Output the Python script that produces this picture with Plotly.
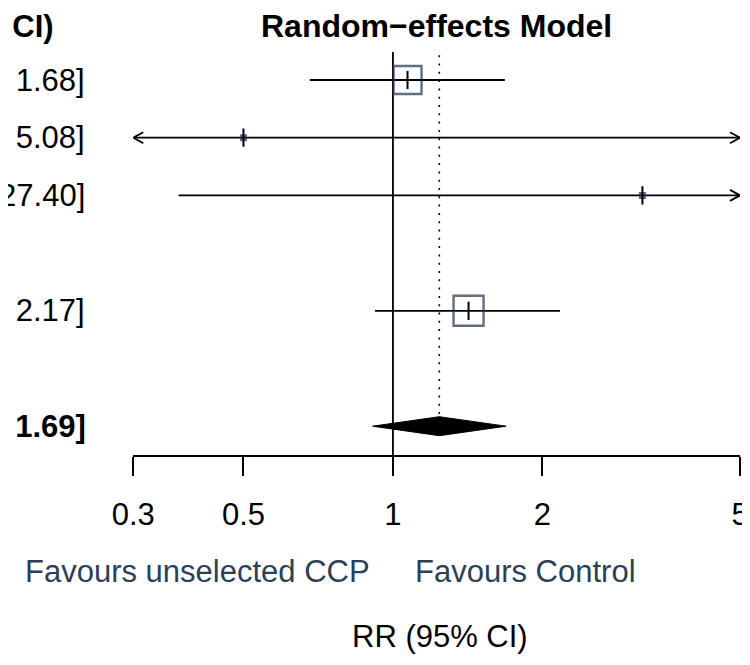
import math
import plotly.graph_objects as go

# ---- data ----
study_rows = [1, 2, 3, 5]
study_rr = [1.07, 0.50, 3.18, 1.42]
study_lower = [0.68, 0.05, 0.37, 0.92]
study_upper = [1.68, 5.08, 27.40, 2.17]
study_weight_size = [28, 7, 7, 30]
study_text = ["1.07 [0.68;\u00a0\u00a01.68]", "0.50 [0.05;\u00a0\u00a05.08]",
              "3.18 [0.37;\u00a027.40]", "1.42 [0.92;\u00a0\u00a02.17]"]

summary_row = 7
summary_rr = 1.24
summary_lower = 0.91
summary_upper = 1.69
summary_text = "1.24 [0.91;\u00a0\u00a01.69]"

tick_vals = [0.3, 0.5, 1, 2, 5]
tick_text = ["0.3", "0.5", "1", "2", "5"]
x_min, x_max = 0.3, 5

W, H = 750, 665
OFF = 8  # page body margin offset
FONT = "Liberation Sans, Arial, Helvetica, sans-serif"
SLATE = "#2B3F56"
SQ_EDGE = "#1E3148"
FS = 31

# pixel geometry helpers (paper coords), corrected for page offset
def px(x):
    return (x - OFF) / W

def py(y):
    return 1 - (y - OFF) / H

axis_y_px = 455 - OFF
x_dom = [(133.3 - OFF) / W, (740.0 - OFF) / W]
row1_px = 80 - OFF
row_step = 57.7
y_top = 1 - row1_px / row_step
y_bot = 1 + (axis_y_px - row1_px) / row_step
y_range = [y_bot, y_top]

fig = go.Figure()

# CI lines (clipped to the axis range)
for r, lo, hi in zip(study_rows, study_lower, study_upper):
    fig.add_trace(go.Scatter(x=[max(lo, x_min), min(hi, x_max)], y=[r, r], mode="lines",
                             line=dict(color="black", width=1.8), hoverinfo="skip", showlegend=False))

# arrow heads where CI exceeds range
dec_per_px = (math.log10(x_max) - math.log10(x_min)) / (740.0 - 133.3)
ah_dx = 10 * dec_per_px
ah_dy = 5.5 / row_step
for r, lo, hi in zip(study_rows, study_lower, study_upper):
    if hi > x_max:
        back = x_max * 10 ** (-ah_dx)
        fig.add_trace(go.Scatter(x=[back, x_max, back], y=[r - ah_dy, r, r + ah_dy], mode="lines",
                                 line=dict(color="black", width=1.8), hoverinfo="skip", showlegend=False))
    if lo < x_min:
        back = x_min * 10 ** (ah_dx)
        fig.add_trace(go.Scatter(x=[back, x_min, back], y=[r - ah_dy, r, r + ah_dy], mode="lines",
                                 line=dict(color="black", width=1.8), hoverinfo="skip", showlegend=False))

# reference line at 1
fig.add_trace(go.Scatter(x=[1, 1], y=[0.515, y_bot], mode="lines", line=dict(color="black", width=1.8),
                         hoverinfo="skip", showlegend=False))
# dotted summary line
fig.add_trace(go.Scatter(x=[summary_rr, summary_rr], y=[0.57, 6.83], mode="lines",
                         line=dict(color="black", width=1.6, dash="2px,6.3px"),
                         hoverinfo="skip", showlegend=False))

# squares
big = [i for i, s in enumerate(study_weight_size) if s > 10]
small = [i for i, s in enumerate(study_weight_size) if s <= 10]
fig.add_trace(go.Scatter(x=[study_rr[i] for i in big], y=[study_rows[i] for i in big], mode="markers",
                         marker=dict(symbol="square", size=[study_weight_size[i] for i in big],
                                     color="rgba(255,255,255,0)", line=dict(color=SQ_EDGE, width=2.4)),
                         hoverinfo="skip", showlegend=False))
fig.add_trace(go.Scatter(x=[study_rr[i] for i in small], y=[study_rows[i] for i in small], mode="markers",
                         marker=dict(symbol="square", size=[study_weight_size[i] for i in small],
                                     color=SQ_EDGE, line=dict(width=0)),
                         hoverinfo="skip", showlegend=False))
# point-estimate ticks
fig.add_trace(go.Scatter(x=study_rr, y=study_rows, mode="markers",
                         marker=dict(symbol="line-ns", size=13, line=dict(color="black", width=2)),
                         hoverinfo="skip", showlegend=False))

# summary diamond
dh = 9.5 / row_step
fig.add_trace(go.Scatter(x=[summary_lower, summary_rr, summary_upper, summary_rr, summary_lower],
                         y=[summary_row, summary_row - dh, summary_row, summary_row + dh, summary_row],
                         mode="lines", fill="toself", fillcolor="black", line=dict(color="black", width=1),
                         hoverinfo="skip", showlegend=False))

annotations = []
# left column values
for r, t in zip(study_rows, study_text):
    annotations.append(dict(x=px(87), xref="paper", y=r, yref="y", text=t, showarrow=False,
                            xanchor="right", yanchor="middle", font=dict(size=FS, color="black", family=FONT)))
annotations.append(dict(x=px(88), xref="paper", y=summary_row, yref="y", text="<b>" + summary_text + "</b>",
                        showarrow=False, xanchor="right", yanchor="middle",
                        font=dict(size=FS, color="black", family=FONT)))
# header
annotations.append(dict(x=px(56), xref="paper", y=py(26), yref="paper", text="<b>RR (95% CI)</b>",
                        showarrow=False, xanchor="right", yanchor="middle",
                        font=dict(size=FS, color="black", family=FONT)))
annotations.append(dict(x=px(436), xref="paper", y=py(26), yref="paper", text="<b>Random\u2212effects Model</b>",
                        showarrow=False, xanchor="center", yanchor="middle",
                        font=dict(size=FS + 1, color="black", family=FONT)))
# favours labels
annotations.append(dict(x=px(372), xref="paper", y=py(571), yref="paper", text="Favours unselected CCP",
                        showarrow=False, xanchor="right", yanchor="middle",
                        font=dict(size=FS, color=SLATE, family=FONT)))
annotations.append(dict(x=px(413), xref="paper", y=py(571), yref="paper", text="Favours Control",
                        showarrow=False, xanchor="left", yanchor="middle",
                        font=dict(size=FS, color=SLATE, family=FONT)))
annotations.append(dict(x=px(440), xref="paper", y=py(636), yref="paper", text="RR (95% CI)",
                        showarrow=False, xanchor="center", yanchor="middle",
                        font=dict(size=FS, color="black", family=FONT)))

fig.update_layout(
    width=W, height=H,
    margin=dict(l=0, r=0, t=0, b=0, pad=0, autoexpand=False),
    paper_bgcolor="white", plot_bgcolor="white",
    font=dict(family=FONT, size=FS, color="black"),
    showlegend=False,
    annotations=annotations,
    xaxis=dict(type="log", domain=x_dom, range=[math.log10(x_min), math.log10(x_max)],
               showline=True, linecolor="black", linewidth=1.8, ticks="outside", ticklen=19,
               tickwidth=1.8, tickcolor="black", tickvals=tick_vals, ticktext=tick_text,
               tickfont=dict(size=FS, color="black", family=FONT), ticklabelstandoff=12,
               showgrid=False, zeroline=False,
               anchor="y", fixedrange=True, automargin=False),
    yaxis=dict(domain=[1 - axis_y_px / H, 1], range=y_range, visible=False, fixedrange=True,
               automargin=False),
)

fig.write_html("out.html")
